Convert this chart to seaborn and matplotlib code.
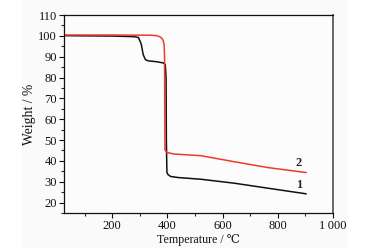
import matplotlib
matplotlib.use("Agg")
import matplotlib.pyplot as plt
import seaborn as sns
import pandas as pd
from matplotlib.patches import Rectangle
from matplotlib.ticker import MultipleLocator, FixedLocator

sns.set_style("ticks")
plt.rcParams['font.family'] = ['Liberation Serif', 'DejaVu Serif']

# Data
temp1 = [25, 100, 200, 280, 295, 305, 312, 320, 330, 360, 385, 392, 395, 396, 398, 402, 412, 440, 521, 642, 764, 903]
weight1 = [100.1, 100.0, 99.9, 99.6, 99.2, 96, 91, 88.6, 88.0, 87.6, 87.0, 86.2, 80, 50, 34.5, 33.4, 32.5, 32, 31.2, 29.3, 26.9, 24.2]
temp2 = [25, 200, 340, 360, 372, 380, 385, 388, 389.5, 390, 391, 395, 400, 424, 521, 642, 764, 903]
weight2 = [100.4, 100.4, 100.3, 100.1, 99.6, 98.8, 97.6, 95.5, 90, 70, 45.3, 44.5, 44.0, 43.3, 42.5, 39.6, 36.8, 34.4]
curve_labels = ["1", "2"]
xticks = [200, 400, 600, 800, 1000]
xticklabels = ["200", "400", "600", "800", "1\u2009000"]
yticks = [20, 30, 40, 50, 60, 70, 80, 90, 100, 110]

df1 = pd.DataFrame({"T": temp1, "W": weight1})
df2 = pd.DataFrame({"T": temp2, "W": weight2})

fig = plt.figure(figsize=(3.72, 2.52), dpi=100)
fig.patch.set_facecolor("white")
bg = Rectangle((22/372, 1-248/252), (348-22)/372, 248/252,
               transform=fig.transFigure, facecolor="#fafafa",
               edgecolor="none", zorder=-10)
fig.add_artist(bg)
ax = fig.add_axes([64/372, 1-213/252, (333-64)/372, (213-15)/252])
ax.set_zorder(5)
ax.set_facecolor("#fcfcfc")

sns.lineplot(data=df1, x="T", y="W", ax=ax, sort=False, estimator=None,
             color="#111111", linewidth=1.1)
sns.lineplot(data=df2, x="T", y="W", ax=ax, sort=False, estimator=None,
             color="#ee3a2c", linewidth=1.1)

ax.set_xlim(25, 1000)
ax.set_ylim(15, 110)
ax.xaxis.set_major_locator(FixedLocator(xticks))
ax.set_xticklabels(xticklabels)
ax.xaxis.set_minor_locator(MultipleLocator(100))
ax.yaxis.set_major_locator(FixedLocator(yticks))
ax.yaxis.set_minor_locator(MultipleLocator(5))
ax.tick_params(axis="both", which="major", direction="out", length=3.5, width=0.8,
               labelsize=9, pad=1.5, colors="#111111")
ax.tick_params(axis="both", which="minor", direction="out", length=2, width=0.8)

for s in ["left", "bottom", "top"]:
    ax.spines[s].set_color("#111111")
    ax.spines[s].set_linewidth(0.9)
ax.spines["right"].set_color("#666666")
ax.spines["right"].set_linewidth(1.4)

ax.set_xlabel("Temperature / \u2103", fontsize=8.6, labelpad=1.5, color="#111111")
ax.set_ylabel("Weight / %", fontsize=9.8, labelpad=2, color="#111111")

ax.text(876, 38.8, curve_labels[1], fontsize=9, fontweight="bold", ha="center", va="center")
ax.text(876, 28.4, curve_labels[0], fontsize=9, fontweight="bold", ha="center", va="center")

fig.savefig("out.png", dpi=100)
